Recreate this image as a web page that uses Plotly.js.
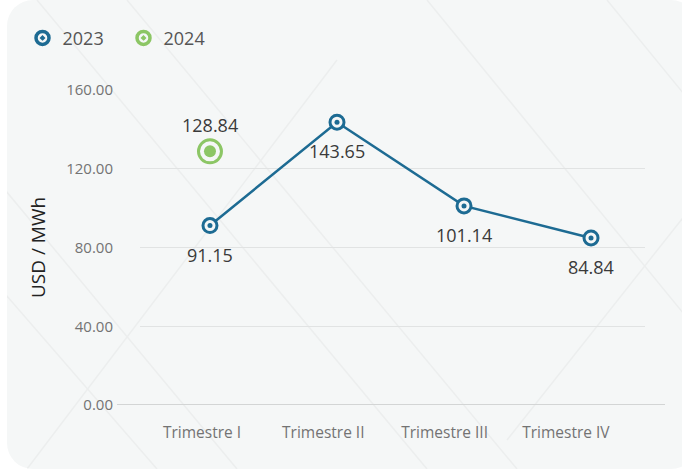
<!DOCTYPE html>
<html>
<head>
<meta charset="utf-8">
<script src="https://cdn.plot.ly/plotly-3.0.1.min.js"></script>
<style>
  html, body { margin: 0; padding: 0; background: #ffffff; }
  #wrap { position: relative; width: 682px; height: 469px; overflow: hidden; }
  #card { position: absolute; left: 7px; top: 0; width: 690px; height: 469px; border-radius: 26px; background: #f5f7f7; overflow: hidden; }
  #deco { position: absolute; left: 0; top: 0; }
  #chart { position: absolute; left: 0; top: 0; width: 682px; height: 469px; }
</style>
</head>
<body>
<div id="wrap">
  <div id="card">
    <svg id="deco" width="690" height="469">
      <g stroke="#eceeee" stroke-width="1.5" fill="none">
        <line x1="30" y1="0" x2="420" y2="469"/>
        <line x1="-60" y1="120" x2="230" y2="469"/>
        <line x1="-40" y1="250" x2="150" y2="469"/>
        <line x1="120" y1="0" x2="510" y2="469"/>
        <line x1="420" y1="0" x2="690" y2="330"/>
        <line x1="600" y1="0" x2="690" y2="110"/>
        <line x1="20" y1="469" x2="330" y2="60"/>
        <line x1="500" y1="440" x2="690" y2="200"/>
      </g>
    </svg>
  </div>
  <div id="chart"></div>
</div>
<script>
// ---- data ----
const categories = ["Trimestre I", "Trimestre II", "Trimestre III", "Trimestre IV"];
const values2023 = [91.15, 143.65, 101.14, 84.84];
const categories2024 = ["Trimestre I"];
const values2024 = [128.84];
const seriesNames = ["2023", "2024"];
const yTitle = "USD / MWh";

// ---- style ----
const BLUE = "#1d6b93";
const GREEN = "#8cc665";
const BG = "#f5f7f7";
const FONT = "Open Sans, sans-serif";

const traces = [
  {
    type: "scatter", mode: "lines+markers", name: seriesNames[0], showlegend: false,
    x: categories, y: values2023,
    line: { color: BLUE, width: 2.5 },
    marker: { symbol: "circle", size: 14, color: BG, line: { color: BLUE, width: 3 } },
    cliponaxis: false, hoverinfo: "x+y"
  },
  {
    type: "scatter", mode: "markers", name: seriesNames[0], showlegend: false,
    x: categories, y: values2023,
    marker: { symbol: "circle", size: 5, color: BLUE },
    cliponaxis: false, hoverinfo: "skip"
  },
  {
    type: "scatter", mode: "markers", name: seriesNames[1], showlegend: false,
    x: categories2024, y: values2024,
    marker: { symbol: "circle", size: 23, color: BG, line: { color: GREEN, width: 3 } },
    cliponaxis: false, hoverinfo: "x+y"
  },
  {
    type: "scatter", mode: "markers", name: seriesNames[1], showlegend: false,
    x: categories2024, y: values2024,
    marker: { symbol: "circle", size: 12, color: GREEN },
    cliponaxis: false, hoverinfo: "skip"
  },
  // legend entries (marker only)
  {
    type: "scatter", mode: "markers", name: seriesNames[0], x: [null], y: [null],
    marker: { symbol: "circle-dot", size: 13, color: BG, line: { color: BLUE, width: 3.5 } }
  },
  {
    type: "scatter", mode: "markers", name: seriesNames[1], x: [null], y: [null],
    marker: { symbol: "circle-dot", size: 13, color: BG, line: { color: GREEN, width: 3.5 } }
  },
  {
    // carrier for the category tick labels on the label axis
    type: "scatter", mode: "markers", xaxis: "x2", showlegend: false,
    x: categories, y: values2023, marker: { opacity: 0 }, hoverinfo: "skip"
  }
];

const annotations = [];
categories.forEach((c, i) => {
  annotations.push({
    x: c, y: values2023[i], xref: "x", yref: "y",
    text: values2023[i].toFixed(2), showarrow: false, yshift: -29,
    font: { family: FONT, size: 18, color: "#3a3a3a" }
  });
});
categories2024.forEach((c, i) => {
  annotations.push({
    x: c, y: values2024[i], xref: "x", yref: "y",
    text: values2024[i].toFixed(2), showarrow: false, yshift: 26,
    font: { family: FONT, size: 18, color: "#3a3a3a" }
  });
});

const layout = {
  width: 682, height: 469,
  margin: { l: 140, r: 37, t: 90, b: 64 },
  paper_bgcolor: "rgba(0,0,0,0)",
  plot_bgcolor: "rgba(0,0,0,0)",
  font: { family: FONT, color: "#6e6e6e" },
  showlegend: true,
  legend: {
    orientation: "h", xref: "container", yref: "container",
    x: 0.033, y: 0.958, xanchor: "left", yanchor: "top",
    font: { family: FONT, size: 18, color: "#555555" },
    itemwidth: 30, entrywidth: 56, bgcolor: "rgba(0,0,0,0)"
  },
  xaxis: {
    type: "category", range: [-0.551, 3.425],
    showgrid: false, zeroline: false, showline: false,
    showticklabels: false, ticks: "", fixedrange: true
  },
  xaxis2: {
    type: "category", overlaying: "x", side: "bottom",
    range: [-0.511, 3.652], categoryorder: "array", categoryarray: categories,
    showgrid: false, zeroline: false, showline: false, ticks: "",
    ticklabelstandoff: 16,
    tickfont: { family: FONT, size: 15.5, color: "#737373" }
  },
  yaxis: {
    range: [0, 160], dtick: 40, tick0: 0, tickformat: ".2f",
    showgrid: true, gridcolor: "#e1e3e3", gridwidth: 1,
    zeroline: false, showline: false, ticks: "",
    ticklabelstandoff: 26,
    tickfont: { family: FONT, size: 15, color: "#737373" },
    title: { text: yTitle, standoff: 15, font: { family: FONT, size: 19, color: "#222222" } }
  },
  shapes: [
    { type: "line", xref: "paper", yref: "y", x0: -0.0455, x1: 1.0396, y0: 0, y1: 0,
      line: { color: "#d3d5d5", width: 2 }, layer: "above" }
  ],
  annotations: annotations
};

Plotly.newPlot("chart", traces, layout, { displayModeBar: false, staticPlot: true });
</script>
</body>
</html>
